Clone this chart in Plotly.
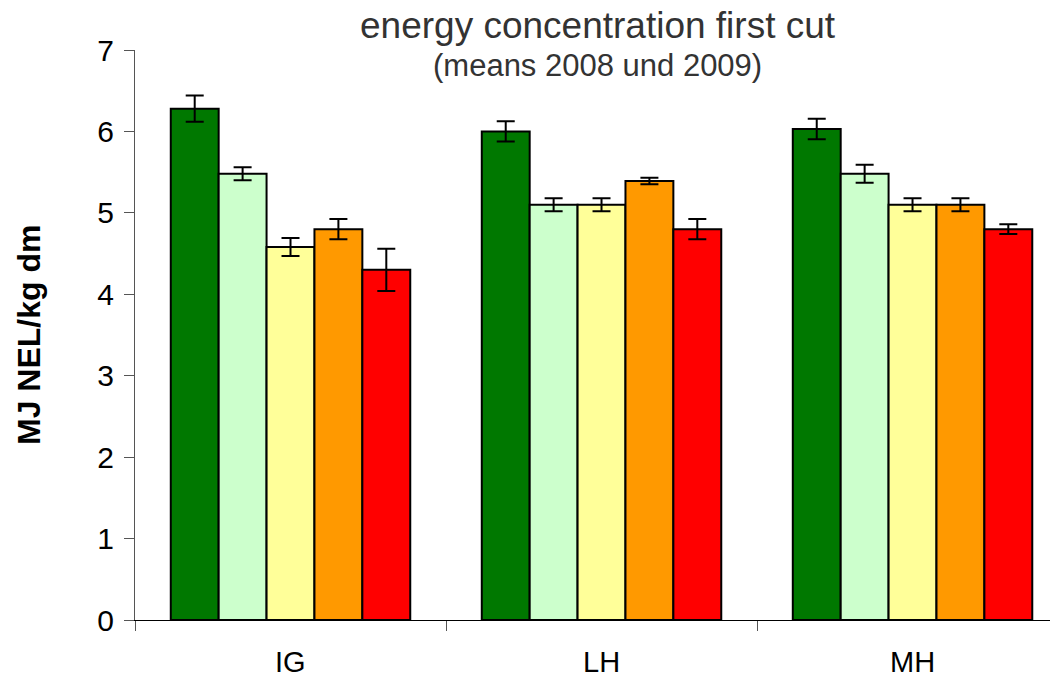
import plotly.graph_objects as go

categories = ["IG", "LH", "MH"]
series_names = ["s1", "s2", "s3", "s4", "s5"]
colors = ["#007800", "#CCFFCC", "#FFFF99", "#FF9900", "#FF0000"]
values = [
    [6.28, 6.00, 6.03],
    [5.48, 5.10, 5.48],
    [4.58, 5.10, 5.10],
    [4.80, 5.39, 5.10],
    [4.30, 4.80, 4.80],
]
errors = [
    [0.16, 0.125, 0.125],
    [0.08, 0.08, 0.11],
    [0.11, 0.08, 0.08],
    [0.125, 0.04, 0.08],
    [0.26, 0.125, 0.06],
]
yticks = [0, 1, 2, 3, 4, 5, 6, 7]

L, T, PW, PH = 135, 50, 915, 570

def px(xp):
    return (xp - L) / PW

def py(yp):
    return 1 - (yp - T) / PH

fig = go.Figure()
for name, col, v, e in zip(series_names, colors, values, errors):
    fig.add_trace(go.Bar(
        x=categories, y=v, name=name,
        marker=dict(color=col, line=dict(color="black", width=2)),
        error_y=dict(type="data", array=e, visible=True, color="black", thickness=2, width=9),
    ))

fig.update_layout(
    width=1050, height=680,
    barmode="group", bargap=0.23, bargroupgap=0,
    showlegend=False,
    plot_bgcolor="white", paper_bgcolor="white",
    margin=dict(l=L, r=0, t=T, b=60),
    font=dict(family="Liberation Sans, Arial, sans-serif", color="black"),
    xaxis=dict(
        range=[-0.5, 2.442], showline=True, linecolor="black", linewidth=1,
        tickmode="array", tickvals=[-0.5, 0.5, 1.5], ticktext=["", "", ""],
        ticks="outside", ticklen=10, tickcolor="#555",
        showgrid=False, zeroline=False,
    ),
    yaxis=dict(
        range=[0, 7.0], tickvals=yticks, showline=True, linecolor="#555", linewidth=1,
        ticks="outside", ticklen=10, tickcolor="#555", tickfont=dict(size=30),
        showgrid=False, zeroline=False, ticklabelstandoff=4,
    ),
)
for i, c in enumerate(categories):
    fig.add_annotation(x=i, y=0, xref="x", yref="y", yshift=-42, text=c,
                       showarrow=False, yanchor="middle",
                       font=dict(size=29, color="black"))

fig.add_annotation(x=px(29), y=0.5, xref="paper", yref="paper", text="<b>MJ NEL/kg dm</b>",
                   textangle=-90, showarrow=False, xanchor="center", yanchor="middle",
                   font=dict(size=32, color="black"))
fig.add_annotation(x=px(598), y=py(25), xref="paper", yref="paper",
                   text="energy concentration first cut", showarrow=False,
                   xanchor="center", yanchor="middle", font=dict(size=37, color="#333"))
fig.add_annotation(x=px(597), y=py(66), xref="paper", yref="paper",
                   text="(means 2008 und 2009)", showarrow=False,
                   xanchor="center", yanchor="middle", font=dict(size=31, color="#333"))

fig.write_html("out.html")
